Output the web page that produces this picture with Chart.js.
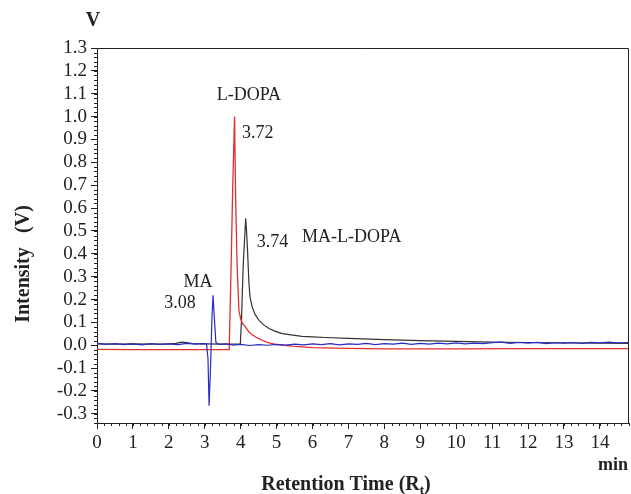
<!DOCTYPE html>
<html>
<head>
<meta charset="utf-8">
<script src="https://cdn.jsdelivr.net/npm/chart.js@4"></script>
<style>
  body { margin: 0; background: #fff; }
  #wrap { width: 631px; height: 494px; position: relative; }
</style>
</head>
<body>
<div id="wrap"><canvas id="hplcChart"></canvas></div>
<script>
// retention time (min) and signal (V)
const maTime = [0, 0.25, 0.5, 0.75, 1.0, 1.25, 1.5, 1.75, 2.0, 2.25, 2.5, 2.75, 2.95, 3.05, 3.09, 3.12, 3.16, 3.2, 3.23, 3.27, 3.31, 3.4, 3.6, 3.8, 4.0, 4.25, 4.5, 4.75, 5.0, 5.25, 5.5, 5.75, 6.0, 6.25, 6.5, 6.75, 7.0, 7.25, 7.5, 7.75, 8.0, 8.25, 8.5, 8.75, 9.0, 9.25, 9.5, 9.75, 10.0, 10.25, 10.5, 10.75, 11.0, 11.25, 11.5, 11.75, 12.0, 12.25, 12.5, 12.75, 13.0, 13.25, 13.5, 13.75, 14.0, 14.25, 14.5, 14.8];
const maSignal = [0.008, 0.004, 0.007, 0.003, 0.006, 0.002, 0.007, 0.004, 0.006, 0.003, 0.008, 0.005, 0.007, 0.006, -0.06, -0.265, -0.1, 0.12, 0.219, 0.11, 0.012, 0.004, 0.006, 0.001, 0.004, -0.001, 0.003, 0.0, 0.004, 0.001, 0.005, 0.002, 0.006, 0.003, 0.007, 0.002, 0.006, 0.004, 0.008, 0.003, 0.007, 0.005, 0.009, 0.004, 0.008, 0.005, 0.009, 0.006, 0.010, 0.006, 0.009, 0.007, 0.011, 0.014, 0.008, 0.012, 0.009, 0.013, 0.007, 0.011, 0.009, 0.012, 0.008, 0.013, 0.010, 0.014, 0.011, 0.012];

const ldopaTime = [0, 1.0, 2.0, 3.0, 3.68, 3.70, 3.72, 3.78, 3.83, 3.86, 3.90, 3.95, 4.0, 4.05, 4.14, 4.23, 4.3, 4.42, 4.5, 4.6, 4.7, 4.79, 5.0, 5.44, 6.0, 7.0, 8.0, 10.0, 12.0, 14.8];
const ldopaSignal = [-0.018, -0.019, -0.019, -0.019, -0.019, -0.019, 0.25, 0.70, 1.0, 0.635, 0.35, 0.153, 0.115, 0.095, 0.078, 0.058, 0.048, 0.036, 0.030, 0.022, 0.015, 0.010, 0.003, -0.004, -0.010, -0.014, -0.016, -0.016, -0.015, -0.015];

const maldopaTime = [0, 0.5, 1.0, 1.5, 2.0, 2.2, 2.35, 2.5, 2.65, 3.0, 3.5, 3.99, 4.02, 4.07, 4.14, 4.17, 4.19, 4.23, 4.26, 4.32, 4.4, 4.51, 4.65, 4.79, 4.95, 5.16, 5.4, 5.71, 6.0, 6.36, 7.0, 8.0, 9.0, 10.0, 11.0, 12.0, 13.0, 14.0, 14.8];
const maldopaSignal = [0.006, 0.005, 0.006, 0.005, 0.006, 0.008, 0.014, 0.012, 0.007, 0.006, 0.005, 0.006, 0.10, 0.35, 0.555, 0.48, 0.416, 0.27, 0.21, 0.168, 0.135, 0.109, 0.088, 0.073, 0.062, 0.051, 0.045, 0.039, 0.037, 0.034, 0.030, 0.025, 0.020, 0.017, 0.014, 0.012, 0.010, 0.009, 0.008];

const xTickValues = [0, 1, 2, 3, 4, 5, 6, 7, 8, 9, 10, 11, 12, 13, 14];
const yTickValues = [-0.3, -0.2, -0.1, 0.0, 0.1, 0.2, 0.3, 0.4, 0.5, 0.6, 0.7, 0.8, 0.9, 1.0, 1.1, 1.2, 1.3];

// peak annotations: [text, time, value, align]
const peakLabels = [
  ['L-DOPA', 4.23, 1.093, 'center'],
  ['3.72', 4.04, 0.927, 'left'],
  ['3.74', 4.45, 0.452, 'left'],
  ['MA-L-DOPA', 5.71, 0.474, 'left'],
  ['MA', 2.81, 0.277, 'center'],
  ['3.08', 2.31, 0.182, 'center']
];

const toPoints = (ts, vs) => ts.map((t, i) => ({ x: t, y: vs[i] }));

const serif = '"Liberation Serif", "Times New Roman", serif';
const ink = '#222';

const decorations = {
  id: 'decorations',
  afterDraw(chart) {
    const c = chart.ctx;
    const a = chart.chartArea;
    const sx = chart.scales.x, sy = chart.scales.y;
    c.save();
    c.strokeStyle = ink;
    c.lineWidth = 1;
    // top and right frame
    c.beginPath();
    c.moveTo(a.left, a.top + 0.5);
    c.lineTo(a.right - 0.5, a.top + 0.5);
    c.lineTo(a.right - 0.5, a.bottom);
    c.stroke();
    // minor ticks
    c.beginPath();
    for (let i = 0; i <= 74; i++) {
      const px = Math.round(sx.getPixelForValue(i * 0.2)) + 0.5;
      c.moveTo(px, a.bottom);
      c.lineTo(px, a.bottom + 3);
    }
    for (let i = -17; i <= 65; i++) {
      const py = Math.round(sy.getPixelForValue(i * 0.02)) + 0.5;
      c.moveTo(a.left, py);
      c.lineTo(a.left - 3, py);
    }
    c.stroke();

    // peak labels
    c.fillStyle = ink;
    c.font = '18px ' + serif;
    c.textBaseline = 'middle';
    peakLabels.forEach(([txt, t, v, al]) => {
      c.textAlign = al;
      c.fillText(txt, sx.getPixelForValue(t), sy.getPixelForValue(v));
    });

    // axis titles
    c.font = 'bold 20px ' + serif;
    c.textAlign = 'center';
    c.textBaseline = 'middle';
    c.fillText('V', 93, 21);
    c.font = 'bold 18px ' + serif;
    c.textBaseline = 'alphabetic';
    c.fillText('min', 613, 470);

    c.font = 'bold 20px ' + serif;
    const w1 = c.measureText('Retention Time (R').width;
    c.font = 'bold 13px ' + serif;
    const w2 = c.measureText('t').width;
    c.font = 'bold 20px ' + serif;
    const w3 = c.measureText(')').width;
    let x0 = 346 - (w1 + w2 + w3) / 2;
    c.textAlign = 'left';
    c.fillText('Retention Time (R', x0, 490);
    c.font = 'bold 13px ' + serif;
    c.fillText('t', x0 + w1, 494);
    c.font = 'bold 20px ' + serif;
    c.fillText(')', x0 + w1 + w2, 490);

    c.translate(24, 0);
    c.rotate(-Math.PI / 2);
    c.textAlign = 'center';
    c.textBaseline = 'middle';
    c.fillText('Intensity', -285, 0);
    c.fillText('(V)', -219, 0);
    c.restore();
  }
};

const ctx = document.getElementById('hplcChart').getContext('2d');

new Chart(ctx, {
  type: 'line',
  data: {
    datasets: [
      {
        label: 'MA',
        data: toPoints(maTime, maSignal),
        borderColor: '#2a2ac4',
        borderWidth: 1.2,
        order: 0
      },
      {
        label: 'L-DOPA',
        data: toPoints(ldopaTime, ldopaSignal),
        borderColor: '#e0302e',
        borderWidth: 1.3,
        order: 1
      },
      {
        label: 'MA-L-DOPA',
        data: toPoints(maldopaTime, maldopaSignal),
        borderColor: '#333333',
        borderWidth: 1.2,
        order: 2
      }
    ]
  },
  options: {
    responsive: true,
    maintainAspectRatio: false,
    animation: false,
    elements: {
      point: { radius: 0 },
      line: { tension: 0 }
    },
    layout: { padding: { top: 48, right: 2, left: 0, bottom: 0 } },
    plugins: {
      legend: { display: false },
      tooltip: { enabled: false }
    },
    scales: {
      x: {
        type: 'linear',
        min: 0,
        max: 14.81,
        afterFit(scale) { scale.height = 71; },
        afterBuildTicks(scale) { scale.ticks = xTickValues.map(v => ({ value: v })); },
        border: { color: ink, width: 1 },
        grid: { drawOnChartArea: false, tickLength: 6, color: ink },
        ticks: {
          autoSkip: false,
          maxRotation: 0,
          padding: 3,
          color: ink,
          font: { family: serif, size: 19 },
          callback: v => String(v)
        }
      },
      y: {
        min: -0.34,
        max: 1.3,
        afterFit(scale) { scale.width = 97; },
        afterBuildTicks(scale) { scale.ticks = yTickValues.map(v => ({ value: v })); },
        border: { color: ink, width: 1 },
        grid: { drawOnChartArea: false, tickLength: 6, color: ink },
        ticks: {
          autoSkip: false,
          padding: 4,
          color: ink,
          font: { family: serif, size: 19 },
          callback: v => v.toFixed(1)
        }
      }
    }
  },
  plugins: [decorations]
});
</script>
</body>
</html>
